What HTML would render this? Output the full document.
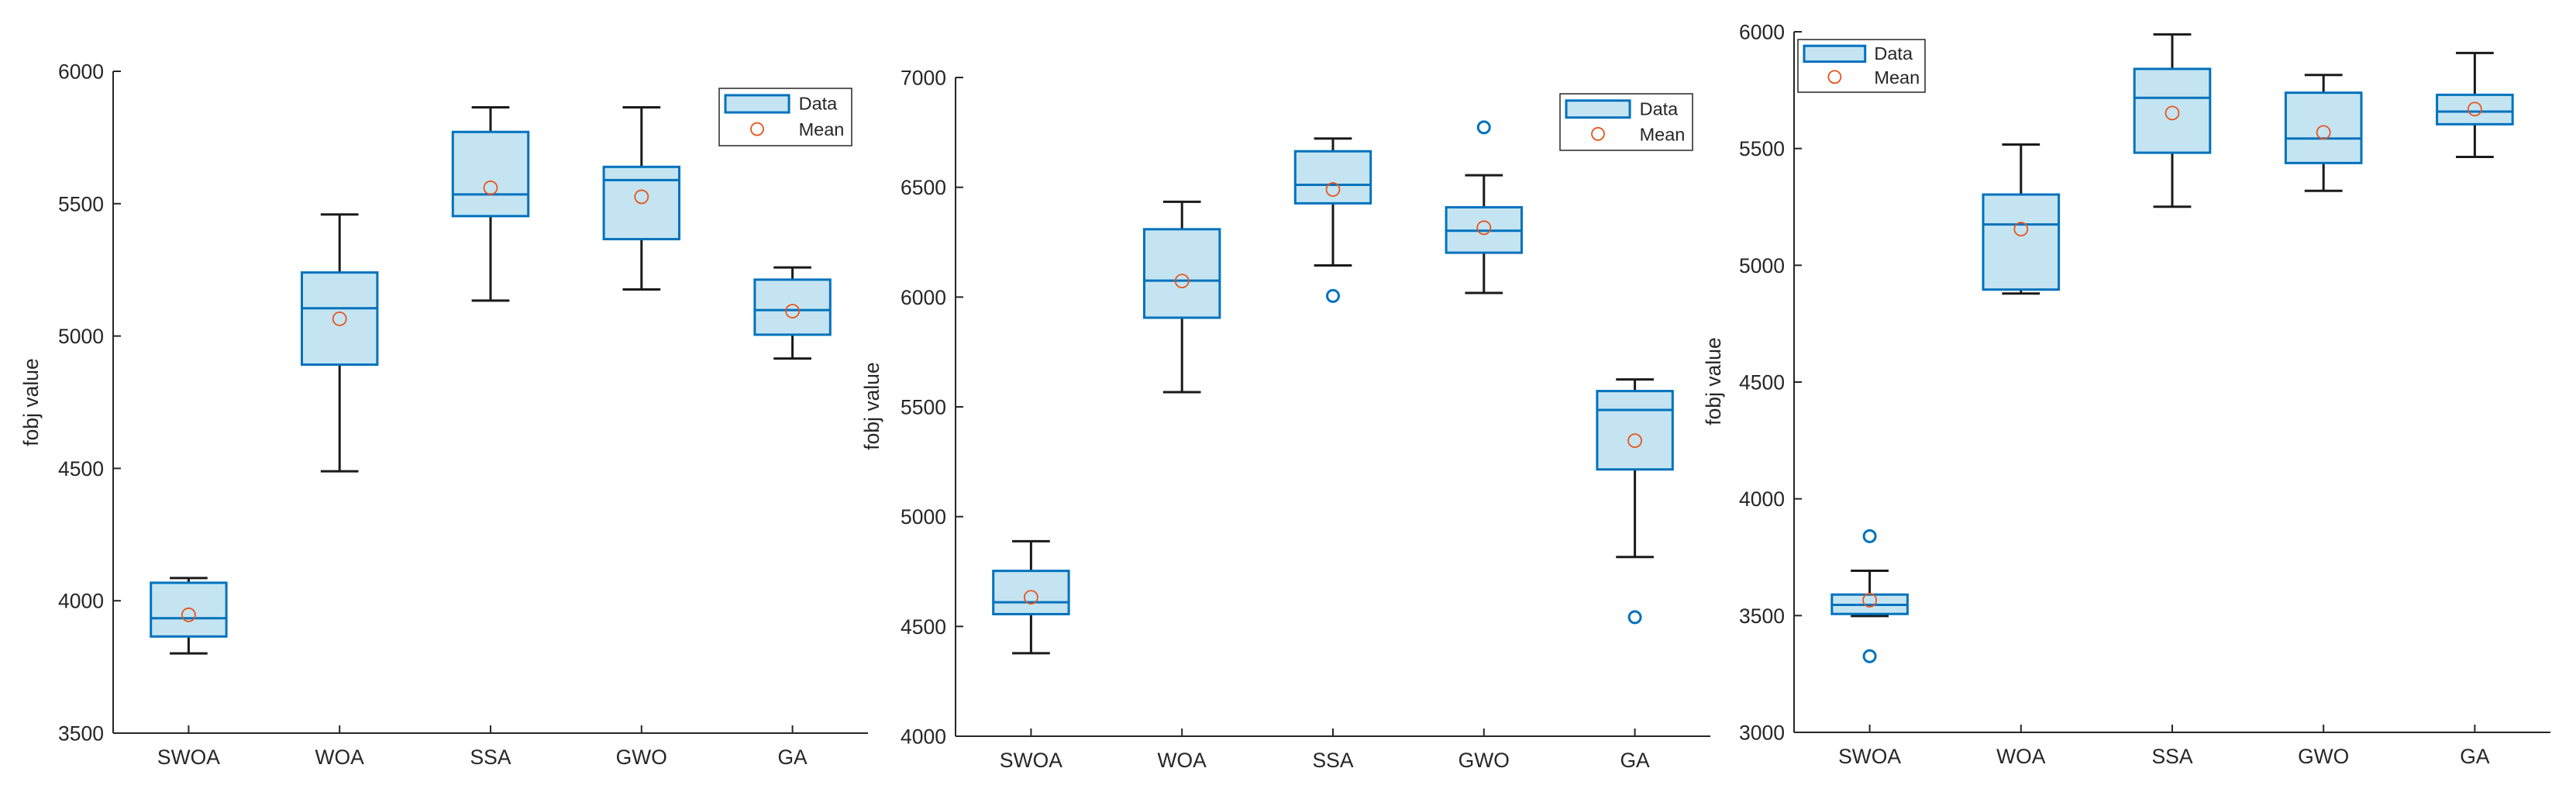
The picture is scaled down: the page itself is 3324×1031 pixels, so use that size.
<!DOCTYPE html>
<html><head><meta charset="utf-8"><style>
html,body{margin:0;padding:0;background:#fff}
svg text{font-family:"Liberation Sans",Arial,sans-serif;fill:#262626}
</style></head><body>
<svg id="chart" width="3324" height="1026" viewBox="0 0 3324 1026" xmlns="http://www.w3.org/2000/svg"></svg>
<script>
const categories = ["SWOA","WOA","SSA","GWO","GA"];
// Panel 1
const p1Min = [3801,4489,5134,5176,4915];
const p1Q1 = [3865,4892,5453,5366,5005];
const p1Med = [3934,5105,5535,5589,5098];
const p1Q3 = [4068,5240,5771,5639,5213];
const p1Max = [4086,5459,5864,5864,5259];
const p1Mean = [3947,5065,5560,5526,5094];
const p1Out = [[],[],[],[],[]];
const p1Ticks = [3500,4000,4500,5000,5500,6000];
// Panel 2
const p2Min = [4378,5567,6144,6019,4816];
const p2Q1 = [4556,5906,6427,6202,5215];
const p2Med = [4610,6075,6511,6302,5486];
const p2Q3 = [4753,6309,6664,6409,5572];
const p2Max = [4888,6434,6722,6555,5625];
const p2Mean = [4633,6073,6490,6316,5346];
const p2Out = [[],[],[6005],[6773],[4542]];
const p2Ticks = [4000,4500,5000,5500,6000,6500,7000];
// Panel 3
const p3Min = [3498,4879,5251,5319,5464];
const p3Q1 = [3507,4896,5482,5438,5604];
const p3Med = [3546,5175,5717,5543,5658];
const p3Q3 = [3590,5303,5841,5739,5730];
const p3Max = [3692,5517,5989,5815,5909];
const p3Mean = [3566,5155,5652,5569,5669];
const p3Out = [[3840,3326],[],[],[],[]];
const p3Ticks = [3000,3500,4000,4500,5000,5500,6000];

const NS = "http://www.w3.org/2000/svg";
const svg = document.getElementById("chart");
function mk(tag, attrs, parent){
  const e = document.createElementNS(NS, tag);
  for (const k in attrs) e.setAttribute(k, attrs[k]);
  (parent||svg).appendChild(e);
  return e;
}

const panels = [
  {n:1,left:146,right:1120,top:92,bottom:946,ymin:3500,ymax:6000,ticks:p1Ticks,min:p1Min,q1:p1Q1,med:p1Med,q3:p1Q3,max:p1Max,mean:p1Mean,out:p1Out,ylx:49,yly:519,leg:[928,114,171,74]},
  {n:2,left:1233,right:2207,top:100,bottom:950,ymin:4000,ymax:7000,ticks:p2Ticks,min:p2Min,q1:p2Q1,med:p2Med,q3:p2Q3,max:p2Max,mean:p2Mean,out:p2Out,ylx:1134,yly:524,leg:[2013,121,171,73]},
  {n:3,left:2315,right:3291,top:41,bottom:945,ymin:3000,ymax:6000,ticks:p3Ticks,min:p3Min,q1:p3Q1,med:p3Med,q3:p3Q3,max:p3Max,mean:p3Mean,out:p3Out,ylx:2220,yly:492,leg:[2320,51,164,68]}
];

panels.forEach(p=>{
  const g = mk("g",{});
  
  
  const sx = (i)=> p.left + (i+1-0.5)*(p.right-p.left)/categories.length;
  const sy = (v)=> p.bottom - (v-p.ymin)/(p.ymax-p.ymin)*(p.bottom-p.top);
  const unit = (p.right-p.left)/categories.length;
  const ya = mk("line",{x1:p.left,y1:p.top,x2:p.left,y2:p.bottom,stroke:"#262626","stroke-width":2},g);
  
  
  const xa = mk("line",{x1:p.left,y1:p.bottom,x2:p.right,y2:p.bottom,stroke:"#262626","stroke-width":2},g);
  
  
  p.ticks.forEach(t=>{
    const y = sy(t);
    mk("line",{x1:p.left,y1:y,x2:p.left+10,y2:y,stroke:"#262626","stroke-width":2},g);
    const tx = mk("text",{x:p.left-12,y:y+9.5,"text-anchor":"end","font-size":26.5},g);
    tx.textContent = t;
    
    
  });
  categories.forEach((c,i)=>{
    const x = sx(i);
    mk("line",{x1:x,y1:p.bottom,x2:x,y2:p.bottom-10,stroke:"#262626","stroke-width":2},g);
    const tx = mk("text",{x:x,y:p.bottom+40,"text-anchor":"middle","font-size":26.5},g);
    tx.textContent = c;
    
    
    const bw = unit*0.5, cw = unit*0.25;
    const wk = mk("path",{d:`M${x},${sy(p.q3[i])}V${sy(p.max[i])}M${x-cw/2},${sy(p.max[i])}H${x+cw/2}M${x},${sy(p.q1[i])}V${sy(p.min[i])}M${x-cw/2},${sy(p.min[i])}H${x+cw/2}`,stroke:"#1a1a1a","stroke-width":3,fill:"none"},g);
    
    
    const bx = mk("rect",{x:x-bw/2,y:sy(p.q3[i]),width:bw,height:sy(p.q1[i])-sy(p.q3[i]),fill:"#c5e4f2",stroke:"#0072bd","stroke-width":3},g);
    
    
    const md = mk("line",{x1:x-bw/2,y1:sy(p.med[i]),x2:x+bw/2,y2:sy(p.med[i]),stroke:"#0072bd","stroke-width":3},g);
    
    
    const mn = mk("circle",{cx:x,cy:sy(p.mean[i]),r:8.5,fill:"none",stroke:"#e8541c","stroke-width":1.8},g);
    
    
    p.out[i].forEach(v=>{
      const o = mk("circle",{cx:x,cy:sy(v),r:7.5,fill:"none",stroke:"#0072bd","stroke-width":3},g);
      
      
    });
  });
  const yl = mk("text",{x:p.ylx,y:p.yly,"text-anchor":"middle","font-size":26.5,transform:`rotate(-90 ${p.ylx} ${p.yly})`},g);
  yl.textContent = "fobj value";
  
  
  const [lx,ly,lw,lh] = p.leg;
  const lg = mk("g",{},g);
  
  
  mk("rect",{x:lx,y:ly,width:lw,height:lh,fill:"#fff",stroke:"#262626","stroke-width":1.5},lg);
  const r1 = lh*0.26, r2 = lh*0.71;
  mk("rect",{x:lx+8,y:ly+lh*0.12,width:lw*0.48,height:lh*0.3,fill:"#c5e4f2",stroke:"#0072bd","stroke-width":3},lg);
  const t1 = mk("text",{x:lx+lw*0.6,y:ly+r1+8.5,"font-size":23.5},lg);
  t1.textContent = "Data";
  
  
  mk("circle",{cx:lx+8+lw*0.24,cy:ly+r2,r:8,fill:"none",stroke:"#e8541c","stroke-width":1.8},lg);
  const t2 = mk("text",{x:lx+lw*0.6,y:ly+r2+8.5,"font-size":23.5},lg);
  t2.textContent = "Mean";
  
  
});
</script>
</body></html>
